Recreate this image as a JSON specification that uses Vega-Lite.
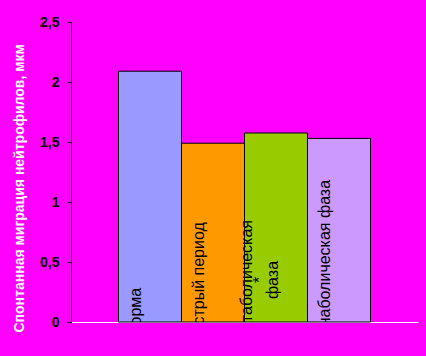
{
  "$schema": "https://vega.github.io/schema/vega-lite/v6.json",
  "autosize": "none",
  "width": 347,
  "height": 300,
  "padding": {"left": 71, "top": 22, "right": 8, "bottom": 34},
  "background": "#FF00FF",
  "config": {"view": {"stroke": null}, "font": "Liberation Sans"},
  "data": {"values": [
    {"group": "Норма", "value": 2.09, "label": "Норма"},
    {"group": "Острый период", "value": 1.49, "label": "Острый период"},
    {"group": "Катаболическая фаза", "value": 1.575, "label": ["Катаболическая", "*", "фаза"]},
    {"group": "Анаболическая фаза", "value": 1.53, "label": "Анаболическая фаза"}
  ]},
  "encoding": {
    "x": {"field": "group", "type": "nominal", "sort": null,
      "scale": {"paddingInner": 0, "paddingOuter": 0.754},
      "axis": {"labels": false, "ticks": false, "title": null, "domainColor": "#FFFFFF", "domainWidth": 1}}
  },
  "layer": [
    {
      "mark": {"type": "bar", "stroke": "#000000", "strokeWidth": 1},
      "encoding": {
        "y": {"field": "value", "type": "quantitative",
          "scale": {"domain": [0, 2.5], "nice": false, "zero": true},
          "axis": {"values": [0, 0.5, 1, 1.5, 2, 2.5], "grid": false,
            "labelExpr": "replace(format(datum.value, ''), '.', ',')",
            "labelFont": "Liberation Sans", "labelFontSize": 14, "labelFontWeight": "bold", "labelColor": "#000000",
            "labelPadding": 8, "tickSize": 4, "tickColor": "#000000", "domainColor": "#000000",
            "title": "Спонтанная миграция нейтрофилов, мкм",
            "titleColor": "#FFFFFF", "titleFont": "Liberation Sans", "titleFontSize": 14, "titleFontWeight": "bold",
            "titleAngle": 270, "titleAlign": "left", "titleBaseline": "middle",
            "titleX": -52, "titleY": 310}},
        "color": {"field": "group", "type": "nominal", "legend": null,
          "scale": {"domain": ["Норма", "Острый период", "Катаболическая фаза", "Анаболическая фаза"],
            "range": ["#9999FF", "#FF9900", "#99CC00", "#CC99FF"]}}
      }
    },
    {
      "transform": [{"filter": "datum.group !== 'Катаболическая фаза'"}],
      "mark": {"type": "text", "angle": 270, "align": "left", "baseline": "middle", "dx": -15, "dy": -14,
        "fontSize": 16, "font": "Liberation Sans", "color": "#000000", "clip": true},
      "encoding": {
        "y": {"datum": 0, "type": "quantitative"},
        "text": {"field": "label"}
      }
    },
    {
      "transform": [{"filter": "datum.group === 'Катаболическая фаза'"}],
      "mark": {"type": "text", "angle": 270, "align": "center", "baseline": "middle", "dx": 42, "dy": -29,
        "lineHeight": 13, "fontSize": 16, "font": "Liberation Sans", "color": "#000000", "clip": true},
      "encoding": {
        "y": {"datum": 0, "type": "quantitative"},
        "text": {"field": "label"}
      }
    }
  ]
}
